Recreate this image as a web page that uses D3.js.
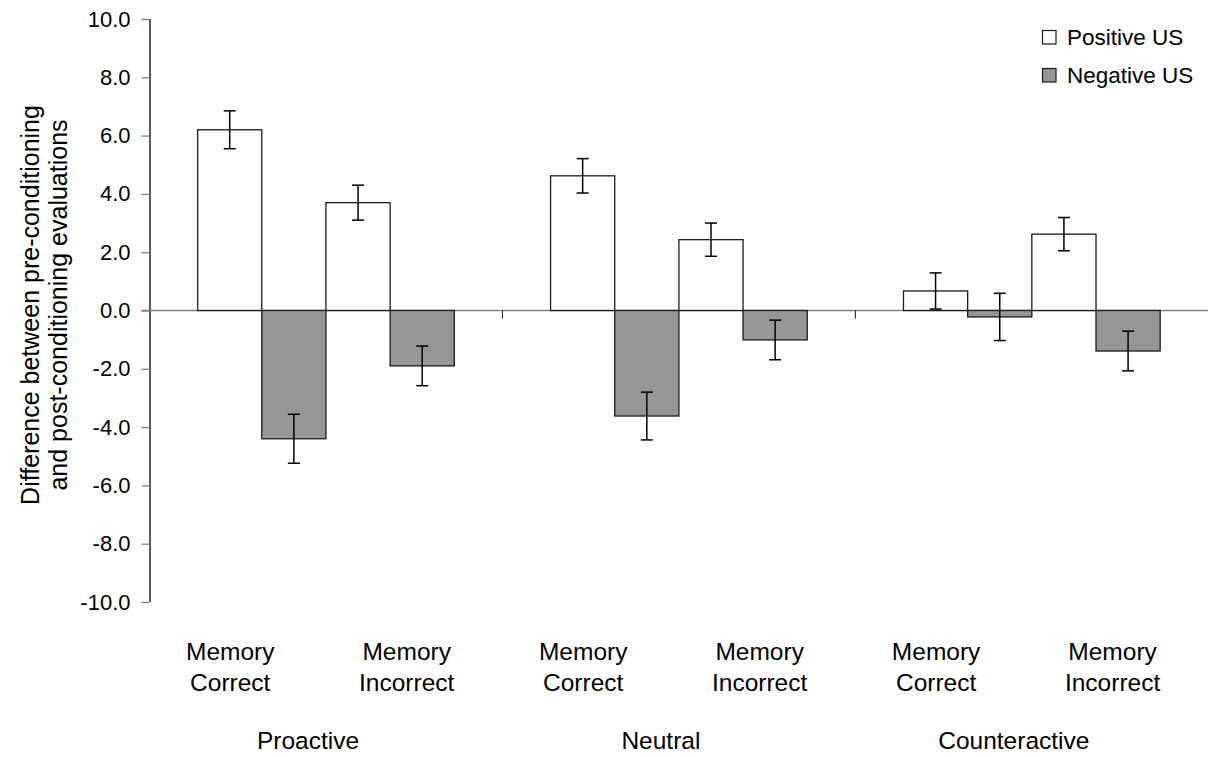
<html>

<head>
    <style>
        body { margin: 0; background: white; }
        text { font-family: "Liberation Sans", Arial, sans-serif; fill: black; }
        .bar { stroke: #1a1a1a; stroke-width: 1.3; }
        .err line { stroke: black; stroke-width: 1.5; }
    </style>
</head>

<body>
    <svg id="chart"></svg>
</body>
<script src="https://cdn.jsdelivr.net/npm/d3@7"></script>
<script>
    let width = 1208,
        height = 757;

    // data
    let groups = ["Proactive", "Neutral", "Counteractive"]
    let memory = ["Memory Correct", "Memory Incorrect"]
    let seriesNames = ["Positive US", "Negative US"]
    let seriesColors = ["white", "#969696"]

    // one value per group x memory, in order
    let positive = [6.2, 3.7, 4.62, 2.43, 0.67, 2.62]
    let positiveErr = [0.65, 0.6, 0.59, 0.57, 0.62, 0.57]
    let negative = [-4.4, -1.9, -3.62, -1.01, -0.22, -1.39]
    let negativeErr = [0.84, 0.68, 0.82, 0.68, 0.81, 0.68]

    let yTicks = [-10, -8, -6, -4, -2, 0, 2, 4, 6, 8, 10]

    let svg = d3.select("#chart").attr("width", width).attr("height", height)

    let plotLeft = 149.5, plotRight = 1208.3, plotTop = 19, plotBottom = 602

    let y = d3.scaleLinear().domain([-10, 10]).range([plotBottom, plotTop])
    let x0 = d3.scaleBand().domain(groups).range([plotLeft, plotRight])
    let barKeys = []
    memory.forEach(m => seriesNames.forEach(s => barKeys.push(m + "|" + s)))
    let x1 = d3.scaleBand().domain(barKeys).range([0, x0.bandwidth()])
        .paddingInner(0).paddingOuter(0.75)
    let subX = d3.scaleBand().domain(memory).range([0, x0.bandwidth()])

    // build rows for the bars
    let rows = []
    groups.forEach((g, gi) => {
        memory.forEach((m, mi) => {
            let i = gi * memory.length + mi
            rows.push({ g: g, key: m + "|" + seriesNames[0], v: positive[i], e: positiveErr[i], s: 0 })
            rows.push({ g: g, key: m + "|" + seriesNames[1], v: negative[i], e: negativeErr[i], s: 1 })
        })
    })

    // y axis
    let yAxis = svg.append("g")
        .attr("transform", `translate(${plotLeft},0)`)
        .call(d3.axisLeft(y).tickValues(yTicks).tickSize(8).tickPadding(11)
            .tickFormat(d => d.toFixed(1)))
    yAxis.select(".domain").attr("stroke", "black").attr("stroke-width", 1.3)
        .attr("d", `M0.5,${plotTop}V${plotBottom}`)
    yAxis.selectAll(".tick line").attr("stroke", "#808080").attr("stroke-width", 1.3)
    yAxis.selectAll(".tick text").attr("font-size", 22).attr("font-family", null)

    // zero line with group separators
    svg.append("line")
        .attr("x1", plotLeft - 8).attr("x2", plotRight)
        .attr("y1", y(0)).attr("y2", y(0))
        .attr("stroke", "#808080").attr("stroke-width", 1.3)
    svg.append("g").selectAll("line")
        .data(groups.slice(1))
        .enter()
        .append("line")
        .attr("x1", d => x0(d)).attr("x2", d => x0(d))
        .attr("y1", y(0)).attr("y2", y(0) + 8)
        .attr("stroke", "#333").attr("stroke-width", 1.2)

    // bars
    svg.append("g").selectAll("rect")
        .data(rows)
        .enter()
        .append("rect")
        .attr("class", "bar")
        .attr("x", d => x0(d.g) + x1(d.key))
        .attr("width", x1.bandwidth())
        .attr("y", d => y(Math.max(0, d.v)))
        .attr("height", d => Math.abs(y(d.v) - y(0)))
        .attr("fill", d => seriesColors[d.s])

    // error bars
    let cap = 6
    let err = svg.append("g").attr("class", "err").selectAll("g")
        .data(rows)
        .enter()
        .append("g")
        .attr("transform", d => `translate(${x0(d.g) + x1(d.key) + x1.bandwidth() / 2},0)`)
    err.append("line").attr("x1", 0).attr("x2", 0)
        .attr("y1", d => y(d.v + d.e)).attr("y2", d => y(d.v - d.e))
    err.append("line").attr("x1", -cap).attr("x2", cap)
        .attr("y1", d => y(d.v + d.e)).attr("y2", d => y(d.v + d.e))
    err.append("line").attr("x1", -cap).attr("x2", cap)
        .attr("y1", d => y(d.v - d.e)).attr("y2", d => y(d.v - d.e))

    // category labels (two lines) and group labels
    let catLabels = svg.append("g").selectAll("text")
        .data(d3.cross(groups, memory))
        .enter()
        .append("text")
        .attr("text-anchor", "middle")
        .attr("font-size", 24.5)
        .attr("transform", d => `translate(${x0(d[0]) + subX(d[1]) + subX.bandwidth() / 2 - 7.5},660)`)
    catLabels.each(function (d) {
        let words = d[1].split(" ")
        d3.select(this).selectAll("tspan")
            .data(words)
            .enter()
            .append("tspan")
            .attr("x", 0)
            .attr("y", (w, i) => i * 31)
            .text(w => w)
    })

    svg.append("g").selectAll("text")
        .data(groups)
        .enter()
        .append("text")
        .attr("text-anchor", "middle")
        .attr("font-size", 24.5)
        .attr("x", d => x0(d) + x0.bandwidth() / 2 - 18)
        .attr("y", 749)
        .text(d => d)

    // y title
    let yTitle = svg.append("text")
        .attr("text-anchor", "middle")
        .attr("font-size", 25)
        .attr("transform", "translate(0,305) rotate(-90)")
    yTitle.append("tspan").attr("x", 0).attr("y", 38.5).text("Difference between pre-conditioning")
    yTitle.append("tspan").attr("x", 0).attr("y", 67).text("and post-conditioning evaluations")

    // legend
    let legend = svg.append("g").selectAll("g")
        .data(seriesNames)
        .enter()
        .append("g")
        .attr("transform", (d, i) => `translate(1042.5,${30.5 + i * 38})`)
    legend.append("rect")
        .attr("width", 13.5).attr("height", 13.5)
        .attr("fill", (d, i) => seriesColors[i])
        .attr("stroke", "#1a1a1a").attr("stroke-width", 1.2)
    legend.append("text")
        .attr("x", 24.5).attr("y", 14.5)
        .attr("font-size", 22.5)
        .text(d => d)
</script>

</html>
